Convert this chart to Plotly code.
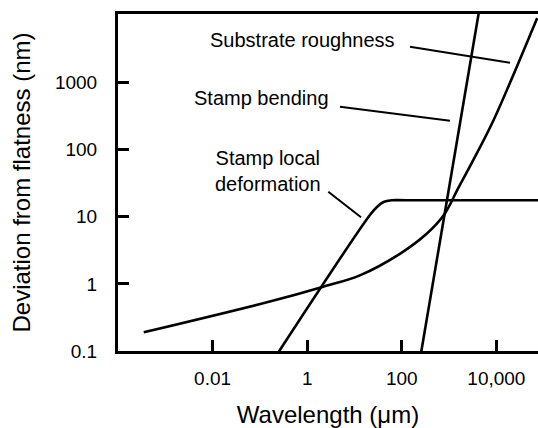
import plotly.graph_objects as go

# ---- data (log-log axes) ----
roughness_x = [0.00035, 0.17, 2.1, 13, 93, 340, 770, 1570, 3000, 8700, 66000, 73000]
roughness_y = [0.19, 0.55, 0.90, 1.34, 2.83, 5.62, 10.5, 26.9, 63, 274, 7700, 9100]

bending_x = [255, 4250]
bending_y = [0.093, 11000]

local_x = [0.24, 21.6, 29.9, 41.2, 62, 120, 100000]
local_y = [0.093, 10.8, 14.0, 16.6, 17.6, 17.6, 17.6]

x_tick_vals = [0.01, 1, 100, 10000]
x_tick_text = ["0.01", "1", "100", "10,000"]
y_tick_vals = [0.1, 1, 10, 100, 1000]
y_tick_text = ["0.1", "1", "10", "100", "1000"]

W, H = 538, 428
ML, MR, MT, MB = 118, 0, 14, 77
PW, PH = W - ML - MR, H - MT - MB


def px(x):
    return (x - ML) / PW


def py(y):
    return (H - MB - y) / PH


fig = go.Figure()
curve = dict(color="black", width=2.6, shape="spline", smoothing=1)
fig.add_trace(go.Scatter(x=roughness_x, y=roughness_y, mode="lines", line=curve,
                         name="Substrate roughness", hoverinfo="skip"))
fig.add_trace(go.Scatter(x=bending_x, y=bending_y, mode="lines",
                         line=dict(color="black", width=2.6),
                         name="Stamp bending", hoverinfo="skip"))
fig.add_trace(go.Scatter(x=local_x, y=local_y, mode="lines", line=curve,
                         name="Stamp local deformation", hoverinfo="skip"))

font_family = "Liberation Sans, Arial, Helvetica, sans-serif"

fig.update_layout(
    width=W, height=H,
    margin=dict(l=ML, r=MR, t=MT, b=MB, pad=0),
    paper_bgcolor="white", plot_bgcolor="white",
    showlegend=False,
    font=dict(family=font_family, color="black", size=19),
)

fig.update_xaxes(
    type="log", range=[-4, 4.88],
    tickvals=x_tick_vals, ticktext=x_tick_text,
    ticks="inside", ticklen=11, tickwidth=3, tickcolor="black",
    showline=True, linewidth=3, linecolor="black", mirror=True,
    showgrid=False, zeroline=False,
    tickfont=dict(size=19), ticklabelstandoff=8,
    title=dict(text="Wavelength (μm)", font=dict(size=24), standoff=23),
)
fig.update_yaxes(
    type="log", range=[-1, 4.02],
    tickvals=y_tick_vals, ticktext=y_tick_text,
    ticks="inside", ticklen=11, tickwidth=3, tickcolor="black",
    showline=True, linewidth=3, linecolor="black", mirror=False,
    showgrid=False, zeroline=False,
    tickfont=dict(size=19), ticklabelstandoff=14,
    title=dict(text="Deviation from flatness (nm)", font=dict(size=24), standoff=18),
)

labels = [
    ("Substrate roughness", 397, 40, "right"),
    ("Stamp bending", 331, 98, "right"),
    ("Stamp local<br>deformation", 268, 170.5, "center"),
]
for text, x, y, anchor in labels:
    fig.add_annotation(text=text, xref="paper", yref="paper", x=px(x), y=py(y),
                       xanchor=anchor, yanchor="middle", showarrow=False,
                       align="center", font=dict(size=20))

leaders = [
    (410, 46.7, 510, 62.7),
    (340, 106.7, 450, 120.7),
    (328.3, 191.7, 361, 217.3),
]
for x0, y0, x1, y1 in leaders:
    fig.add_shape(type="line", xref="paper", yref="paper",
                  x0=px(x0), y0=py(y0), x1=px(x1), y1=py(y1),
                  line=dict(color="black", width=2))

fig.write_html("out.html", config={"displayModeBar": False},
               post_script="document.body.style.margin='0';")
